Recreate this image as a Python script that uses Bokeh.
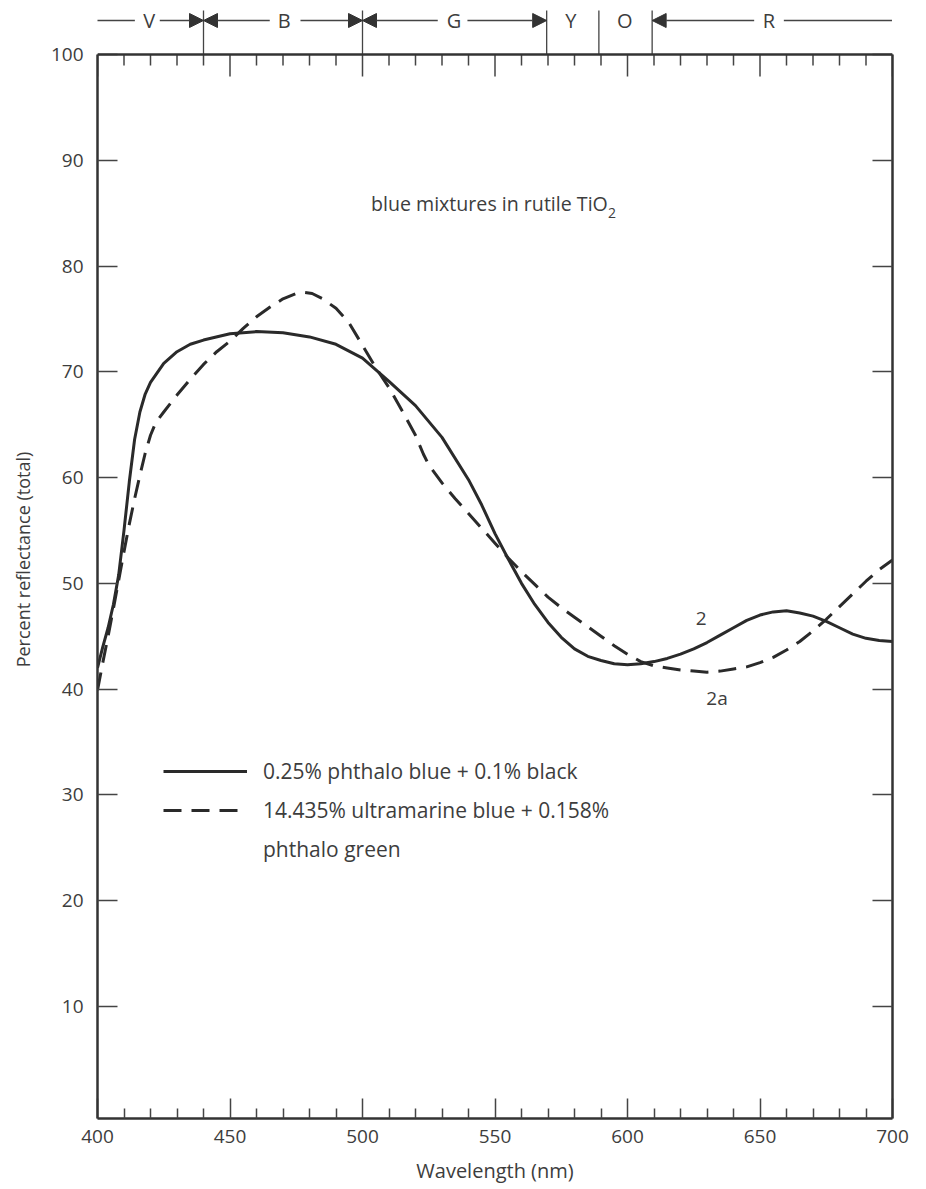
import math
from bokeh.plotting import figure
from bokeh.models import (Range1d, FixedTicker, LinearAxis, Label, Arrow, NormalHead,
                          Legend, LegendItem, Span)
from bokeh.embed import file_html
from bokeh.resources import INLINE

# ---------------- data ----------------
wl_solid = [400, 402, 404, 406, 408, 410, 412, 414, 416, 418, 420, 425, 430, 435, 440,
            450, 460, 470, 480, 490, 500, 510, 520, 530, 540, 545, 550, 555, 560, 565,
            570, 575, 580, 585, 590, 595, 600, 605, 610, 615, 620, 625, 630, 635, 640,
            645, 650, 655, 660, 665, 670, 675, 680, 685, 690, 695, 700]
refl_solid = [42.0, 44.0, 45.8, 48.0, 50.8, 55.0, 59.6, 63.6, 66.2, 67.9, 69.0, 70.8, 71.9,
              72.6, 73.0, 73.6, 73.8, 73.7, 73.3, 72.6, 71.3, 69.1, 66.8, 63.8, 59.8, 57.4,
              54.7, 52.3, 50.0, 48.0, 46.3, 44.9, 43.8, 43.1, 42.7, 42.4, 42.3, 42.4, 42.6,
              42.9, 43.3, 43.8, 44.4, 45.1, 45.8, 46.5, 47.0, 47.3, 47.4, 47.2, 46.9, 46.4,
              45.8, 45.2, 44.8, 44.6, 44.5]

wl_dash = [400, 402, 404, 406, 408, 410, 412, 414, 416, 418, 420, 422, 425, 430, 435, 440,
           445, 450, 455, 460, 465, 470, 475, 478, 481, 485, 490, 495, 500, 505, 510, 515,
           520, 523, 525, 530, 535, 540, 545, 550, 555, 560, 565, 570, 575, 580, 585, 590,
           595, 600, 605, 610, 615, 620, 625, 630, 635, 640, 645, 650, 655, 660, 665, 670,
           675, 680, 685, 690, 695, 700]
refl_dash = [39.9, 42.5, 45.0, 47.6, 50.3, 53.0, 55.6, 58.0, 60.2, 62.3, 64.0, 65.2, 66.2,
             67.8, 69.3, 70.7, 71.9, 72.9, 74.1, 75.2, 76.1, 76.9, 77.4, 77.5, 77.4, 76.9,
             76.0, 74.6, 72.5, 70.4, 68.5, 66.3, 64.0, 62.2, 61.2, 59.5, 58.0, 56.6, 55.2,
             53.8, 52.4, 51.1, 49.9, 48.7, 47.7, 46.8, 45.9, 45.0, 44.1, 43.3, 42.6, 42.2,
             42.0, 41.8, 41.7, 41.6, 41.7, 41.9, 42.1, 42.5, 43.0, 43.7, 44.5, 45.5, 46.6,
             47.8, 49.0, 50.2, 51.3, 52.2]

x_major = [400, 450, 500, 550, 600, 650, 700]
x_minor = [410, 420, 430, 440, 460, 470, 480, 490, 510, 520, 530, 540, 560, 570, 580, 590,
           610, 620, 630, 640, 660, 670, 680, 690]
y_major = [10, 20, 30, 40, 50, 60, 70, 80, 90, 100]

band_names = ["V", "B", "G", "Y", "O", "R"]
band_label_x = [419.5, 470.5, 534.5, 578.6, 599.0, 653.4]
band_bounds = [440, 500, 569.5, 589.2, 609.3]

legend_labels = ["0.25% phthalo blue + 0.1% black",
                 "14.435% ultramarine blue + 0.158%",
                 "phthalo green"]

FONT = "Open Sans"
TXT = "#3d3d3d"
INK = "#2a2a2a"
AX = "#333333"
TICK = "#444444"

Y_TOP = 105.106            # canvas top (px 0); the plot box itself ends at 100
PX = 1118 / (Y_TOP + 0.6)  # pixels per reflectance unit

p = figure(width=926, height=1189, output_backend="svg", toolbar_location=None,
           x_range=Range1d(400, 700), y_range=Range1d(-0.6, Y_TOP),
           min_border_left=97, min_border_right=34, min_border_top=0, min_border_bottom=71,
           x_axis_location=None, y_axis_location=None)
p.outline_line_color = None
p.grid.visible = False
p.background_fill_color = "white"
p.border_fill_color = "white"


def style_axis(ax):
    ax.axis_line_color = AX
    ax.axis_line_width = 2.5
    ax.major_tick_line_color = TICK
    ax.minor_tick_line_color = TICK
    ax.major_tick_line_width = 1.5
    ax.minor_tick_line_width = 1.5
    ax.major_tick_out = 0
    ax.minor_tick_out = 0
    ax.major_tick_in = 20
    ax.minor_tick_in = 10
    ax.major_label_text_font = FONT
    ax.major_label_text_color = TXT
    ax.major_label_text_font_size = "19px"
    ax.axis_label_text_font = FONT
    ax.axis_label_text_color = TXT
    ax.axis_label_text_font_style = "normal"


bottom = LinearAxis(ticker=FixedTicker(ticks=x_major, minor_ticks=x_minor),
                    axis_label="Wavelength (nm)")
style_axis(bottom)
bottom.major_label_standoff = 11
bottom.axis_label_standoff = 11
bottom.axis_label_text_font_size = "20px"

left = LinearAxis(ticker=FixedTicker(ticks=y_major, minor_ticks=[]),
                  axis_label="Percent reflectance (total)", bounds=(-0.6, 100))
style_axis(left)
left.major_label_standoff = 14
left.axis_label_standoff = 13
left.axis_label_text_font_size = "18px"

right = LinearAxis(ticker=FixedTicker(ticks=y_major, minor_ticks=[]), bounds=(-0.6, 100),
                   major_label_overrides={t: "" for t in y_major})
style_axis(right)
right.major_label_standoff = 0

p.add_layout(bottom, "below")
p.add_layout(left, "left")
p.add_layout(right, "right")

# top edge of the plot box with inward ticks
p.add_layout(Span(location=100, dimension="width", line_color=AX, line_width=2.5))
p.segment(x0=x_minor, y0=[100] * len(x_minor), x1=x_minor,
          y1=[100 - 11 / PX] * len(x_minor), line_color=TICK, line_width=1.5)
p.segment(x0=x_major, y0=[100] * len(x_major), x1=x_major,
          y1=[100 - 22 / PX] * len(x_major), line_color=TICK, line_width=1.5)

# curves
r1 = p.line(wl_solid, refl_solid, line_color=INK, line_width=3)
r2 = p.line(wl_dash, refl_dash, line_color=INK, line_width=3, line_dash="18 10")
r3 = p.line([], [], line_alpha=0)

legend = Legend(items=[LegendItem(label=legend_labels[0], renderers=[r1]),
                       LegendItem(label=legend_labels[1], renderers=[r2]),
                       LegendItem(label=legend_labels[2], renderers=[r3])],
                location=(66, 255), glyph_width=84, glyph_height=20, label_height=20,
                label_standoff=16, spacing=11, padding=0, margin=0,
                border_line_color=None, background_fill_alpha=0,
                label_text_font=FONT, label_text_font_size="21px", label_text_color=TXT)
p.add_layout(legend)


def lab(x, y, text, size="18px", align="center", angle=0.0):
    p.add_layout(Label(x=x, y=y, text=text, text_font=FONT, text_font_size=size,
                       text_color=TXT, text_align=align, text_baseline="middle",
                       angle=angle))


# annotation texts
lab(503.2, 85.91, "blue mixtures in rutile TiO", size="19.6px", align="left")
lab(592.6, 85.0, "2", size="14px", align="left")
lab(627.8, 46.67, "2", size="19px")
lab(633.8, 39.2, "2a", size="19px")

# colour bands above the plot box
YB = Y_TOP - 20 / PX
YL = Y_TOP - 10 / PX
for name, bx in zip(band_names, band_label_x):
    lab(bx, YB, name, size="20px")
p.segment(x0=band_bounds, y0=[100] * len(band_bounds), x1=band_bounds,
          y1=[YL] * len(band_bounds), line_color=TICK, line_width=1.3)


def head():
    return NormalHead(size=14, fill_color="#333333", line_color="#333333", line_width=1)


segs = [  # (start, end, head at end?)
    (399.4, 414.1, False),
    (423.5, 440, True),
    (465.0, 440, True),
    (476.6, 500, True),
    (528.4, 500, True),
    (539.6, 569.5, True),
    (647.8, 609.3, True),
    (659.0, 699.8, False),
]
for xs, xe, h in segs:
    p.add_layout(Arrow(x_start=xs, y_start=YB, x_end=xe, y_end=YB,
                       end=head() if h else None,
                       line_color=TICK, line_width=1.3))

open("out.html", "w").write(file_html(p, INLINE))
